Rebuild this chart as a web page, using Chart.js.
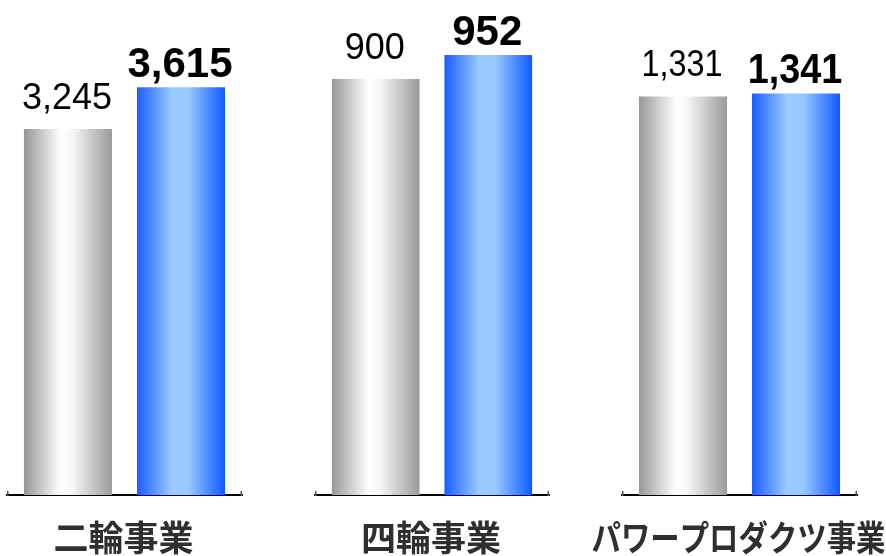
<!DOCTYPE html>
<html>
<head>
<meta charset="utf-8">
<script src="https://cdn.jsdelivr.net/npm/chart.js@4"></script>
<style>
  html, body { margin: 0; padding: 0; background: #fff; }
  #wrap { position: relative; width: 886px; height: 556px; overflow: hidden; }
  canvas { position: absolute; top: 0; }
</style>
</head>
<body>
<div id="wrap">
  <canvas id="c0" width="300" height="556" style="left:0px"></canvas>
  <canvas id="c1" width="300" height="556" style="left:308px"></canvas>
  <canvas id="c2" width="300" height="556" style="left:586px"></canvas>
</div>
<script>
// ---- data ----
const categories = ['二輪事業', '四輪事業', 'パワープロダクツ事業'];
const previousValues = [3245, 900, 1331];
const currentValues = [3615, 952, 1341];
// per-panel value-axis maximum (each business drawn on its own scale)
const panelMax = [4388, 1071, 1653];

// ---- layout / style ----
const panelPadding = [
  { left: 7, right: 58 },
  { left: 7, right: 59 },
  { left: 36, right: 29 }
];
const labelSquash = [1, 1, 0.84];
const numberSquash = [1, 1, 0.9];

function fmt(v) { return v.toLocaleString('en-US'); }

const gradientPlugin = {
  id: 'barGradient',
  beforeDatasetsDraw(chart) {
    const ctx = chart.ctx;
    chart.data.datasets.forEach((ds, di) => {
      const meta = chart.getDatasetMeta(di);
      meta.data.forEach(el => {
        const l = el.x - el.width / 2, r = el.x + el.width / 2;
        const g = ctx.createLinearGradient(l, 0, r, 0);
        if (di === 0) {
          g.addColorStop(0, '#979797');
          g.addColorStop(0.42, '#ffffff');
          g.addColorStop(0.55, '#f6f6f6');
          g.addColorStop(1, '#9a9a9a');
        } else {
          g.addColorStop(0, '#1a5cff');
          g.addColorStop(0.4, '#99ccff');
          g.addColorStop(0.58, '#99c9ff');
          g.addColorStop(1, '#0d5aff');
        }
        el.options.backgroundColor = g;
      });
    });
  }
};

const labelPlugin = {
  id: 'labels',
  afterDraw(chart) {
    const ctx = chart.ctx;
    const pi = chart.options.plugins.labels.panel;
    // value labels
    chart.data.datasets.forEach((ds, di) => {
      const meta = chart.getDatasetMeta(di);
      meta.data.forEach((el, i) => {
        ctx.save();
        ctx.fillStyle = '#000';
        ctx.textAlign = 'center';
        ctx.textBaseline = 'alphabetic';
        ctx.font = di === 0 ? '36px "Liberation Sans", Arial, sans-serif'
                            : 'bold 42px "Liberation Sans", Arial, sans-serif';
        const gap = di === 0 ? 20 : 10;
        const s = numberSquash[pi];
        ctx.translate(el.x - 1, el.y - gap);
        ctx.scale(s, 1);
        ctx.fillText(fmt(ds.data[i]), 0, 0);
        ctx.restore();
      });
    });
    // category label
    const xs = chart.scales.x;
    const cx = xs.getPixelForTick(0);
    ctx.save();
    ctx.fillStyle = '#2f2f2f';
    ctx.textAlign = 'center';
    ctx.textBaseline = 'middle';
    ctx.font = 'bold 35px "Noto Sans CJK JP", sans-serif';
    ctx.translate(cx - 1, 538);
    ctx.scale(labelSquash[pi], 1);
    ctx.fillText(chart.data.labels[0], 0, 0);
    ctx.restore();
    // end ticks of the axis
    const b = chart.chartArea.bottom;
    ctx.save();
    ctx.strokeStyle = '#555';
    ctx.lineWidth = 1.5;
    ctx.beginPath();
    ctx.moveTo(xs.left + 0.75, b - 4);
    ctx.lineTo(xs.left + 0.75, b + 1);
    ctx.moveTo(xs.right - 0.75, b - 4);
    ctx.lineTo(xs.right - 0.75, b + 1);
    ctx.stroke();
    ctx.restore();
  }
};

categories.forEach((cat, i) => {
  new Chart(document.getElementById('c' + i), {
    type: 'bar',
    data: {
      labels: [cat],
      datasets: [
        { label: 'previous', data: [previousValues[i]], backgroundColor: '#aaa',
          categoryPercentage: 0.962, barPercentage: 0.779 },
        { label: 'current', data: [currentValues[i]], backgroundColor: '#39f',
          categoryPercentage: 0.962, barPercentage: 0.779 }
      ]
    },
    options: {
      responsive: false,
      devicePixelRatio: 1,
      animation: false,
      layout: { padding: { left: panelPadding[i].left, right: panelPadding[i].right, top: 0, bottom: 0 } },
      plugins: { legend: { display: false }, tooltip: { enabled: false }, labels: { panel: i } },
      scales: {
        x: {
          grid: { display: false },
          ticks: { display: false },
          border: { display: true, color: '#000', width: 2 },
          afterFit: s => { s.height = 61; }
        },
        y: {
          display: false,
          min: 0,
          max: panelMax[i]
        }
      }
    },
    plugins: [gradientPlugin, labelPlugin]
  });
});
</script>
</body>
</html>
